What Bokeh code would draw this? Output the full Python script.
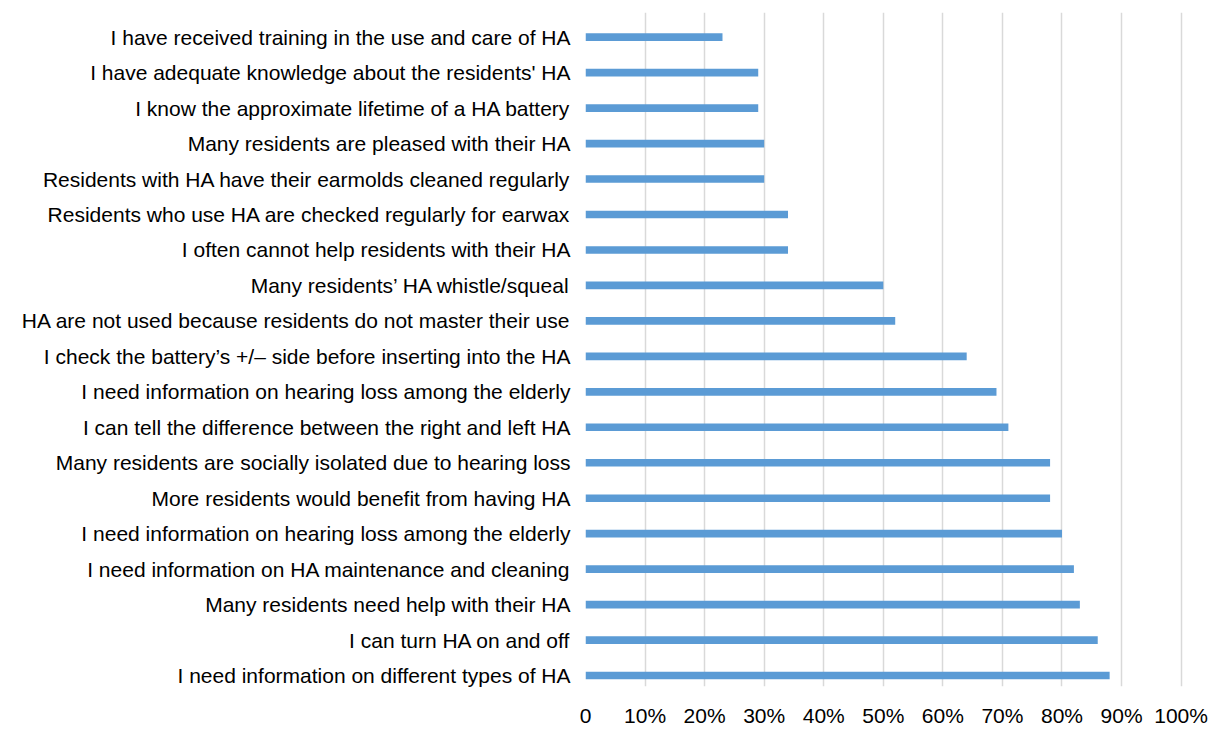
from bokeh.plotting import figure
from bokeh.models import Range1d, FixedTicker, ColumnDataSource
from bokeh.embed import file_html
from bokeh.resources import INLINE

categories = [
    "I have received training in the use and care of HA",
    "I have adequate knowledge about the residents' HA",
    "I know the approximate lifetime of a HA battery",
    "Many residents are pleased with their HA",
    "Residents with HA have their earmolds cleaned regularly",
    "Residents who use HA are checked regularly for earwax",
    "I often cannot help residents with their HA",
    "Many residents\u2019 HA whistle/squeal",
    "HA are not used because residents do not master their use",
    "I check the battery\u2019s +/\u2013 side before inserting into the HA",
    "I need information on hearing loss among the elderly",
    "I can tell the difference between the right and left HA",
    "Many residents are socially isolated due to hearing loss",
    "More residents would benefit from having HA",
    "I need information on hearing loss among the elderly",
    "I need information on HA maintenance and cleaning",
    "Many residents need help with their HA",
    "I can turn HA on and off",
    "I need information on different types of HA",
]
values = [23, 29, 29, 30, 30, 34, 34, 50, 52, 64, 69, 71, 78, 78, 80, 82, 83, 86, 88]
x_ticks = [0, 10, 20, 30, 40, 50, 60, 70, 80, 90, 100]
x_tick_labels = ["0", "10%", "20%", "30%", "40%", "50%", "60%", "70%", "80%", "90%", "100%"]

n = len(categories)
ypos = [n - 1 - i for i in range(n)]
src = ColumnDataSource(dict(y=ypos, v=values, cat=categories))

p = figure(width=1212, height=729, output_backend="svg", toolbar_location=None,
           x_range=Range1d(0, 100.4), y_range=Range1d(-0.309, n - 1 + 0.696),
           min_border_left=585, min_border_right=29, min_border_top=12, min_border_bottom=40)

p.hbar(y="y", left=0, right="v", height=0.216, source=src, color="#5B9BD5", line_color=None)

p.outline_line_color = None
p.ygrid.grid_line_color = None
p.xgrid.grid_line_color = "#D9D9D9"
p.xgrid.grid_line_width = 1.5
p.xaxis.ticker = FixedTicker(ticks=x_ticks)
p.xaxis.major_label_overrides = {t: l for t, l in zip(x_ticks, x_tick_labels)}
p.yaxis.ticker = FixedTicker(ticks=ypos)
p.yaxis.major_label_overrides = {y: c for y, c in zip(ypos, categories)}

for ax in (p.xaxis, p.yaxis):
    ax.axis_line_color = None
    ax.major_tick_line_color = None
    ax.minor_tick_line_color = None
    ax.major_tick_out = 0
    ax.major_tick_in = 0
    ax.major_label_text_font = "Liberation Sans"
    ax.major_label_text_font_size = "21px"
    ax.major_label_text_color = "#000000"

p.xaxis.major_label_standoff = 17
p.yaxis.major_label_standoff = 15

open("out.html", "w").write(file_html(p, INLINE))
